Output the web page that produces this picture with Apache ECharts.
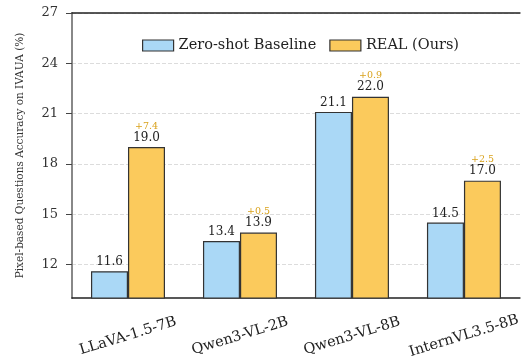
<!DOCTYPE html>
<html>
<head>
<meta charset="utf-8">
<script src="https://cdn.jsdelivr.net/npm/echarts@6/dist/echarts.min.js"></script>
<style>
  html, body { margin: 0; padding: 0; background: #fff; }
  #chart { width: 523px; height: 364px; }
</style>
</head>
<body>
<div id="chart"></div>
<script>
const models = ['LLaVA-1.5-7B', 'Qwen3-VL-2B', 'Qwen3-VL-8B', 'InternVL3.5-8B']
const baseline = [11.6, 13.4, 21.1, 14.5]
const real = [19.0, 13.9, 22.0, 17.0]
const gains = ['+7.4', '+0.5', '+0.9', '+2.5']
const yTicks = [12, 15, 18, 21, 24, 27]

const serif = '"DejaVu Serif", "Liberation Serif", serif'

const chart = echarts.init(document.getElementById('chart'))

const option = {
  animation: false,
  textStyle: { fontFamily: serif },
  legend: {
    top: 33,
    left: 137,
    icon: 'rect',
    itemWidth: 31,
    itemHeight: 11,
    itemGap: 13,
    textStyle: { fontFamily: serif, fontSize: 14.5, color: '#222' },
    itemStyle: { borderColor: '#333', borderWidth: 1.2 },
    data: ['Zero-shot Baseline', 'REAL (Ours)']
  },
  grid: {
    left: 72,
    right: 0,
    top: 13,
    bottom: 66
  },
  xAxis: [
    {
      type: 'category',
      data: models,
      axisLine: { lineStyle: { color: '#222', width: 1.5 } },
      axisTick: { alignWithLabel: true, length: 6, lineStyle: { color: '#222', width: 1.5 } },
      axisLabel: {
        rotate: 17,
        align: 'center',
        margin: 38,
        fontFamily: serif,
        fontSize: 14.5,
        color: '#222'
      }
    },
    {
      type: 'category',
      position: 'top',
      data: models,
      axisLine: { lineStyle: { color: '#222', width: 1.5 } },
      axisTick: { show: false },
      axisLabel: { show: false }
    }
  ],
  yAxis: {
    type: 'value',
    min: 10,
    max: 27,
    name: 'Pixel-based Questions Accuracy on IVAUA (%)',
    nameLocation: 'middle',
    nameGap: 46,
    nameTextStyle: { fontFamily: serif, fontSize: 10.5, color: '#333' },
    axisLine: { show: true, lineStyle: { color: '#888', width: 2 } },
    axisTick: { show: true, length: 6, customValues: yTicks, lineStyle: { color: '#444' } },
    axisLabel: { customValues: yTicks, fontFamily: serif, fontSize: 13, color: '#333', margin: 14 },
    splitLine: { show: true, lineStyle: { color: '#dcdcdc', type: 'dashed' } }
  },
  series: [
    {
      name: 'Zero-shot Baseline',
      type: 'bar',
      data: baseline,
      barWidth: 37,
      barGap: '0%',
      itemStyle: { color: '#aad8f6', borderColor: '#333', borderWidth: 1.2 },
      label: {
        show: true,
        position: 'top',
        distance: 3,
        formatter: (p) => p.value.toFixed(1),
        fontFamily: serif,
        fontSize: 12,
        color: '#222'
      }
    },
    {
      name: 'REAL (Ours)',
      type: 'bar',
      data: real,
      barWidth: 37,
      itemStyle: { color: '#fbca5c', borderColor: '#333', borderWidth: 1.2 },
      label: {
        show: true,
        position: 'top',
        distance: 3,
        formatter: (p) => '{g|' + gains[p.dataIndex] + '}\n{v|' + p.value.toFixed(1) + '}',
        rich: {
          g: { fontFamily: serif, fontSize: 9.5, color: '#d9a21c', lineHeight: 10 },
          v: { fontFamily: serif, fontSize: 12, color: '#222', lineHeight: 13 }
        }
      }
    }
  ]
}

chart.setOption(option)
</script>
</body>
</html>
